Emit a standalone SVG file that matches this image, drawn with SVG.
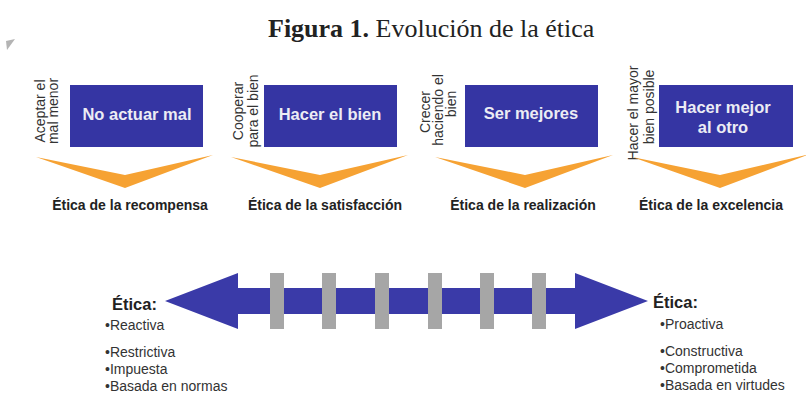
<svg xmlns="http://www.w3.org/2000/svg" width="806" height="394" viewBox="0 0 806 394">
<style>
.title{font-family:"Liberation Serif",serif;font-size:26px;fill:#222}
.box{fill:#3535a3}
.btxt{font-family:"Liberation Sans",Arial,sans-serif;font-weight:bold;font-size:16.5px;fill:#ececf4;text-anchor:middle}
.rot{font-family:"Liberation Sans",Arial,sans-serif;font-size:14px;fill:#333;text-anchor:middle}
.chev{fill:#f6a233}
.lbl{font-family:"Liberation Sans",Arial,sans-serif;font-weight:bold;font-size:14px;fill:#222;text-anchor:middle}
.et{font-family:"Liberation Sans",Arial,sans-serif;font-weight:bold;font-size:16.5px;fill:#222}
.bul{font-family:"Liberation Sans",Arial,sans-serif;font-size:14px;fill:#333}
.bar{fill:#a6a6a6}
</style>
<rect width="806" height="394" fill="#ffffff"/>
<text class="title" x="268" y="37"><tspan font-weight="bold">Figura 1.</tspan> Evolución de la ética</text>
<polygon points="6,41 15,39 7,50" fill="#b4b4b4"/>

<g id="node-no-actuar-mal">
<text class="rot" transform="translate(44.5,111) rotate(-90)">Aceptar el</text>
<text class="rot" transform="translate(57.5,111) rotate(-90)">mal menor</text>
<rect class="box" x="70" y="85" width="133" height="62"/>
<text class="btxt" x="137" y="120">No actuar mal</text>
<polygon class="chev" points="36,157 125,175 213,155 125,188"/>
<text class="lbl" x="130" y="210">Ética de la recompensa</text>
</g>

<g id="node-hacer-el-bien">
<text class="rot" transform="translate(243,111) rotate(-90)">Cooperar</text>
<text class="rot" transform="translate(257.5,111) rotate(-90)">para el bien</text>
<rect class="box" x="264" y="85" width="133" height="62"/>
<text class="btxt" x="330" y="120">Hacer el bien</text>
<polygon class="chev" points="231,157 320,175 408,155 320,188"/>
<text class="lbl" x="325" y="210">Ética de la satisfacción</text>
</g>

<g id="node-ser-mejores">
<text class="rot" transform="translate(430,112) rotate(-90)">Crecer</text>
<text class="rot" transform="translate(443,110) rotate(-90)">haciendo el</text>
<text class="rot" transform="translate(456,104) rotate(-90)">bien</text>
<rect class="box" x="465" y="85" width="133" height="62"/>
<text class="btxt" x="531" y="119">Ser mejores</text>
<polygon class="chev" points="435,157 525,175 613,155 525,188"/>
<text class="lbl" x="523" y="210">Ética de la realización</text>
</g>

<g id="node-hacer-mejor">
<text class="rot" transform="translate(638,113) rotate(-90)">Hacer el mayor</text>
<text class="rot" transform="translate(653.5,107) rotate(-90)">bien posible</text>
<rect class="box" x="659" y="85" width="134" height="62"/>
<text class="btxt" x="723" y="113">Hacer mejor</text>
<text class="btxt" x="723" y="133">al otro</text>
<polygon class="chev" points="632,157 720,175 810,154 720,188"/>
<text class="lbl" x="711" y="210">Ética de la excelencia</text>
</g>

<g id="connectors">
<polygon fill="#3a3aa8" points="165,301 238,273 238,288 575,288 575,273 648,301 575,329 575,314 238,314 238,329"/>
<rect class="bar" x="270" y="273" width="14" height="56"/>
<rect class="bar" x="322" y="273" width="14" height="56"/>
<rect class="bar" x="375" y="273" width="14" height="56"/>
<rect class="bar" x="428" y="273" width="14" height="56"/>
<rect class="bar" x="480" y="273" width="14" height="56"/>
<rect class="bar" x="532" y="273" width="14" height="56"/>
</g>

<g id="node-etica-left">
<text class="et" x="112" y="310">Ética:</text>
<text class="bul" x="105" y="330">•Reactiva</text>
<text class="bul" x="105" y="357">•Restrictiva</text>
<text class="bul" x="105" y="374">•Impuesta</text>
<text class="bul" x="105" y="391">•Basada en normas</text>
</g>

<g id="node-etica-right">
<text class="et" x="653" y="308">Ética:</text>
<text class="bul" x="660" y="329">•Proactiva</text>
<text class="bul" x="660" y="356">•Constructiva</text>
<text class="bul" x="660" y="373">•Comprometida</text>
<text class="bul" x="660" y="390">•Basada en virtudes</text>
</g>
</svg>
